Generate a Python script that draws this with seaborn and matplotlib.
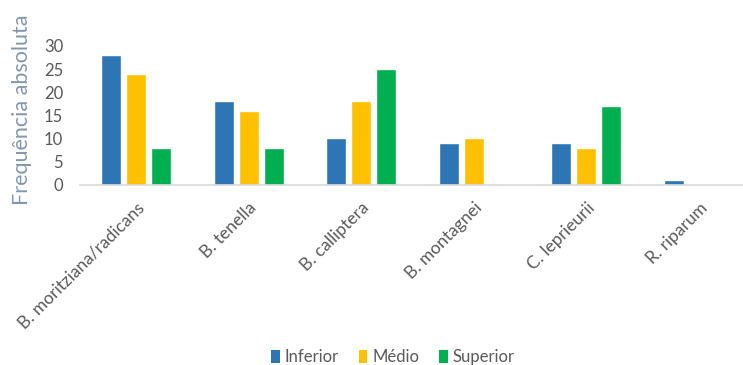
import matplotlib
matplotlib.use("Agg")
import matplotlib.pyplot as plt
import seaborn as sns
import pandas as pd
from matplotlib.patches import Patch

categories = ["B. moritziana/radicans", "B. tenella", "B. calliptera",
              "B. montagnei", "C. leprieurii", "R. riparum"]
series_names = ["Inferior", "Médio", "Superior"]
inferior = [28, 18, 10, 9, 9, 1]
medio = [24, 16, 18, 10, 8, 0]
superior = [8, 8, 25, 0, 17, 0]
yticks = [0, 5, 10, 15, 20, 25, 30]
ylabel = "Frequência absoluta"

colors = ["#2E75B6", "#FFC000", "#00B050"]

rows = []
for name, vals in zip(series_names, [inferior, medio, superior]):
    for c, v in zip(categories, vals):
        rows.append({"cat": c, "serie": name, "val": v})
df = pd.DataFrame(rows)

sns.set_theme(style="white")
plt.rcParams['font.family'] = ['Lato', 'DejaVu Sans']

fig = plt.figure(figsize=(7.43, 3.65), dpi=100)
ax = fig.add_axes([79.7/743, 1-184.5/365, 675.6/743, 138.5/365])

sns.barplot(data=df, x="cat", y="val", hue="serie", order=categories,
            hue_order=series_names, palette=colors, saturation=1,
            width=0.667, gap=0.2, ax=ax, legend=False)

ax.set_xlim(-0.5, 5.5)
ax.set_ylim(0, 30)
ax.set_yticks(yticks)
ax.set_yticklabels([str(t) for t in yticks], fontsize=12, color="#595959")
ax.set_xticks(range(len(categories)))
ax.set_xticklabels(categories, rotation=45, ha="right", rotation_mode="anchor",
                   fontsize=12.5, color="#595959")
ax.tick_params(axis="y", length=0, pad=12)
ax.tick_params(axis="x", length=0, pad=11)
ax.set_xlabel("")
ax.set_ylabel("")
for s in ["top", "right", "left"]:
    ax.spines[s].set_visible(False)
ax.spines["bottom"].set_color("#D9D9D9")
ax.spines["bottom"].set_linewidth(1.2)

fig.text(22/743, 1-110/365, ylabel, rotation=90, ha="center", va="center",
         fontsize=15.5, color="#8497B0")

handles = [Patch(facecolor=c, edgecolor="none") for c in colors]
fig.legend(handles, series_names, loc="center", bbox_to_anchor=(393/743, 1-357/365),
           ncol=3, frameon=False, fontsize=12, handlelength=0.5, handleheight=0.8,
           handletextpad=0.3, columnspacing=1.2, labelcolor="#595959")

fig.savefig("out.png", dpi=100)
